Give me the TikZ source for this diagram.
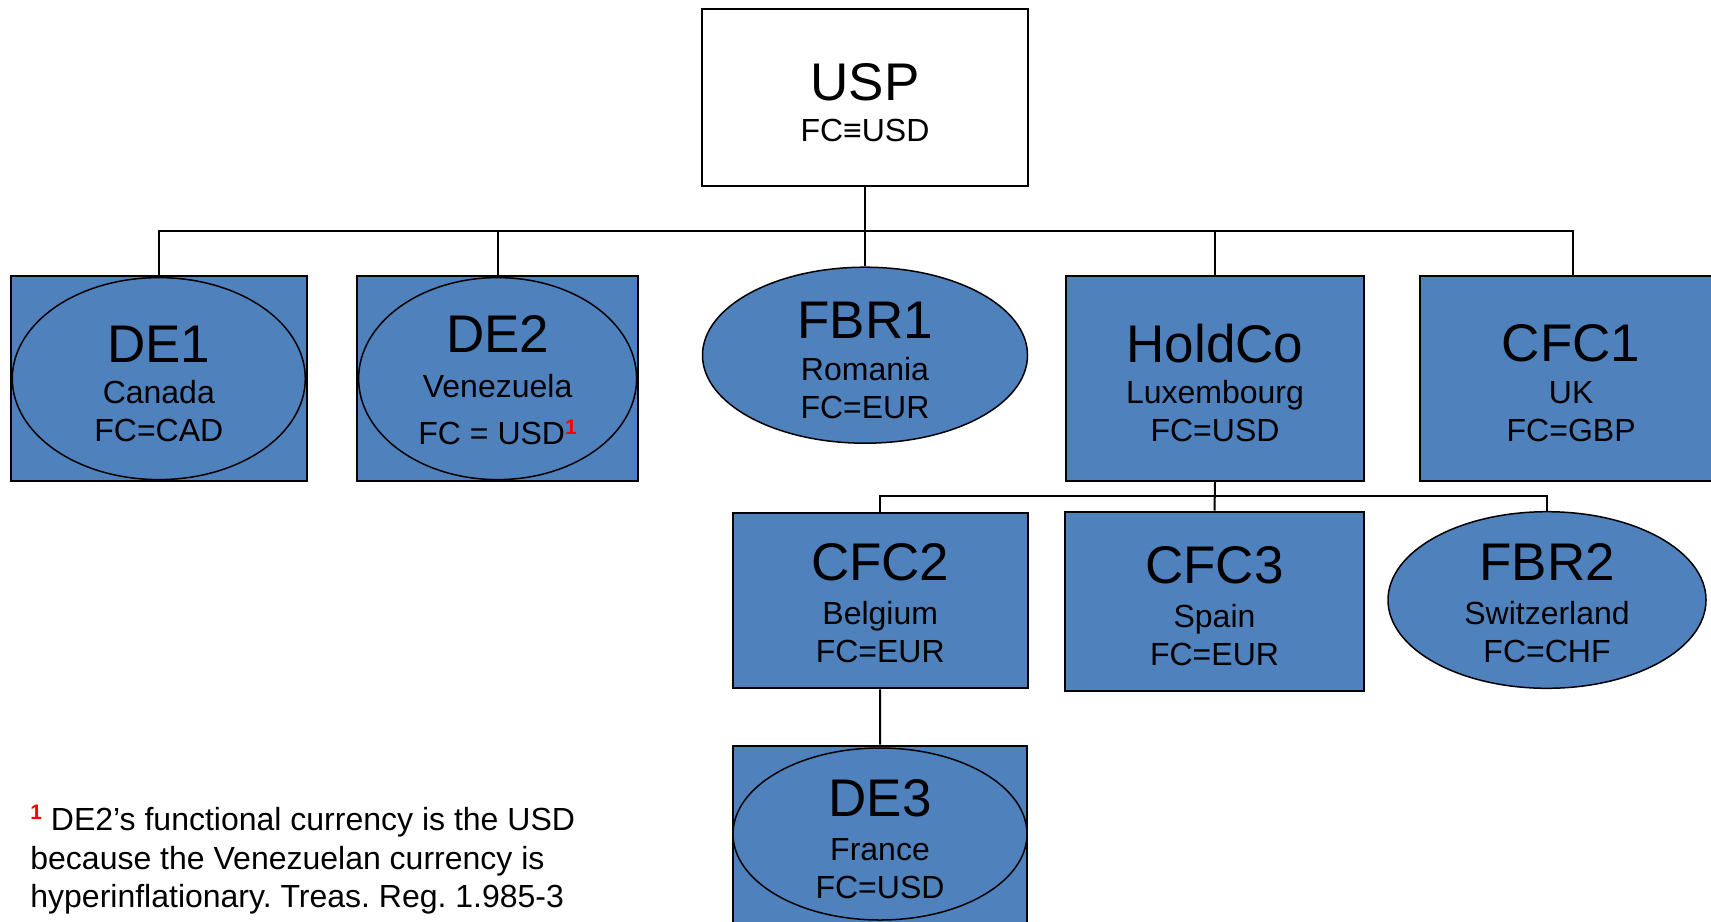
\documentclass[tikz,border=0pt]{standalone}
\usepackage{fontspec}
\setmainfont{Liberation Sans}
\usetikzlibrary{shapes.geometric}
\definecolor{boxblue}{HTML}{4F81BD}
\frenchspacing
\newcommand\ttlx[1]{{\fontsize{26.5}{30}\selectfont\rule{0pt}{23.5pt}#1}}
\newcommand\supred{\raisebox{5.3pt}{\fontsize{10.5}{12}\selectfont\bfseries\color{red}1}}
\tikzset{
  plainbox/.style={rectangle, draw=black, line width=1pt, fill=white, inner sep=0pt},
  entbox/.style={rectangle, draw=black, line width=1pt, fill=boxblue, inner sep=0pt},
  entell/.style={ellipse, draw=black, line width=0.75pt, fill=boxblue, inner sep=0pt},
  txt/.style={align=center, inner sep=0pt, text=black, font=\fontsize{16}{19}\selectfont},
  link/.style={draw=black, line width=1pt},
  note/.style={align=left, inner sep=0pt, anchor=north west, text=black, font=\fontsize{16}{19.3}\selectfont}
}
\begin{document}
\begin{tikzpicture}[x=0.5pt,y=-0.5pt]
\useasboundingbox (0,0) rectangle (1711,921);
\clip (0,0) rectangle (1711,921);

% top parent
\node[plainbox, minimum width=163pt, minimum height=88.5pt] (usp) at (865,97.5) {};
\node[txt] (usp-t) at (usp.center) {\ttlx{USP}\\[1.7pt]FC{\bfseries ≡}USD};

% first level
\node[entbox, minimum width=148pt, minimum height=102.5pt] (de1box) at (158.8,378.6) {};
\node[entell, minimum width=146.5pt, minimum height=101pt] (de1) at (de1box.center) {};
\node[txt] (de1-t) at (de1.center) {\ttlx{DE1}\\[1.7pt]Canada\\FC=CAD};

\node[entbox, minimum width=140.8pt, minimum height=102.5pt] (de2box) at (497.6,378.6) {};
\node[entell, minimum width=139pt, minimum height=101pt] (de2) at (de2box.center) {};
\node[txt] (de2-t) at ([yshift=1.5pt]de2.center) {\ttlx{DE2}\\[3.5pt]Venezuela\\[4.5pt]FC = USD\supred};

\node[entell, minimum width=162.5pt, minimum height=88pt] (fbr1) at (865,355.2) {};
\node[txt] (fbr1-t) at (fbr1.center) {\ttlx{FBR1}\\[1.7pt]Romania\\FC=EUR};

\node[entbox, minimum width=149pt, minimum height=102.5pt] (holdco) at (1215,378.4) {};
\node[txt] (holdco-t) at (holdco.center) {\ttlx{HoldCo}\\[1.7pt]Luxembourg\\FC=USD};

\node[entbox, minimum width=152.5pt, minimum height=102.5pt] (cfc1) at (1572.7,378) {};
\node[txt] (cfc1-t) at ([xshift=-0.8pt]cfc1.center) {\ttlx{CFC1}\\[1.7pt]UK\\FC=GBP};

% second level
\node[entbox, minimum width=147.5pt, minimum height=87.8pt] (cfc2) at (880.2,600.5) {};
\node[txt] (cfc2-t) at ([yshift=1pt]cfc2.center) {\ttlx{CFC2}\\[3pt]Belgium\\FC=EUR};

\node[entbox, minimum width=149.5pt, minimum height=89.5pt] (cfc3) at (1214.5,601.2) {};
\node[txt] (cfc3-t) at (cfc3.center) {\ttlx{CFC3}\\[3pt]Spain\\FC=EUR};

\node[entell, minimum width=159pt, minimum height=88.3pt] (fbr2) at (1547,600) {};
\node[txt] (fbr2-t) at ([yshift=1pt]fbr2.center) {\ttlx{FBR2}\\[3pt]Switzerland\\FC=CHF};

% third level
\node[entbox, minimum width=147.2pt, minimum height=103pt] (de3box) at (880,848.7) {};
\node[entell, minimum width=147pt, minimum height=86pt] (de3) at (880,834) {};
\node[txt] (de3-t) at (de3.center) {\ttlx{DE3}\\[3pt]France\\FC=USD};

% connectors
\coordinate (bus) at (865,231);
\coordinate (bus2) at (1215,496);
\draw[link] (usp.south) -- (fbr1.north);
\draw[link] (de1box.north) |- (bus) -| (cfc1.north);
\draw[link] (de2box.north) -- (de2box.north |- bus);
\draw[link] (holdco.north) -- (holdco.north |- bus);
\draw[link] (holdco.south) -- (cfc3.north);
\draw[link] (cfc2.north) |- (bus2) -| (fbr2.north);
\draw[link] (cfc2.south) -- (de3box.north);

% footnote
\node[note] (fn) at (30,805) {\rule{0pt}{12pt}\supred\ DE2’s functional currency is the USD\\because the Venezuelan currency is\\hyperinflationary. Treas. Reg. 1.985-3};
\end{tikzpicture}
\end{document}
